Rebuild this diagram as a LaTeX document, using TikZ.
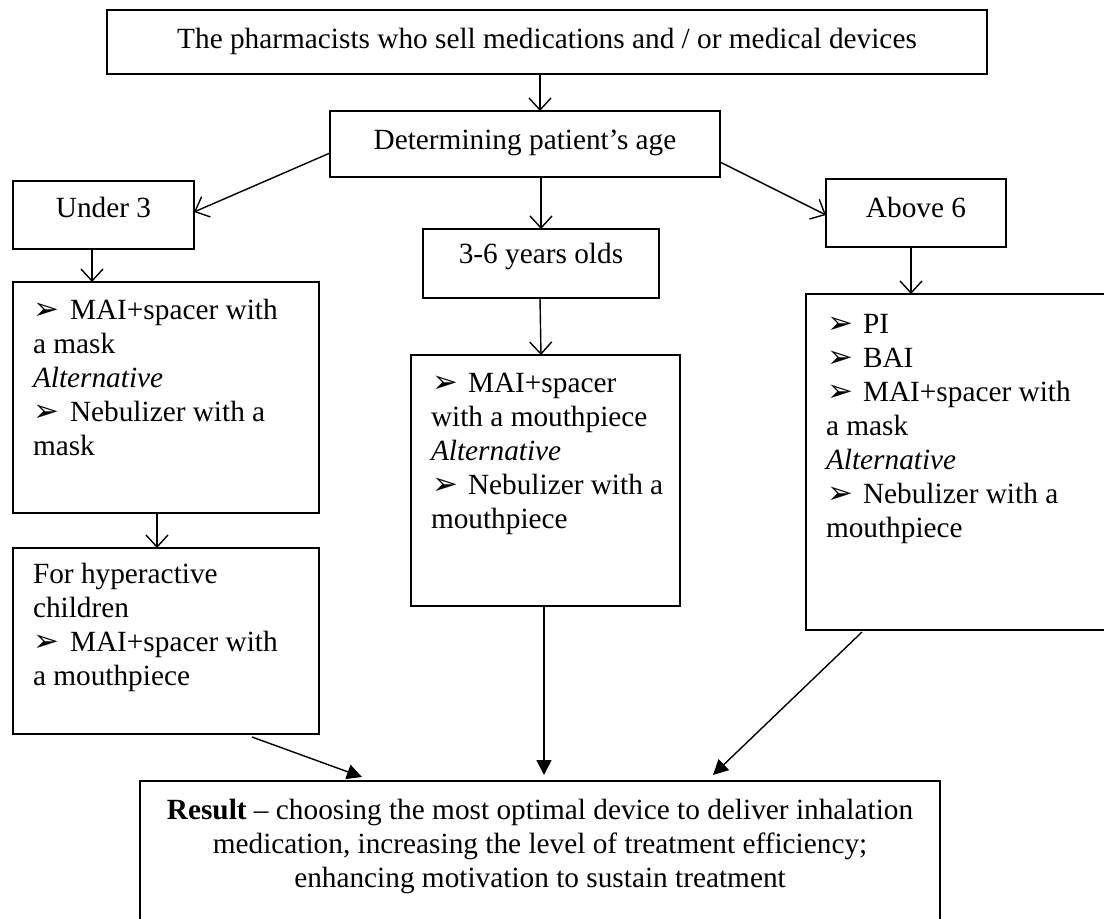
\documentclass[tikz,border=0pt]{standalone}
\usepackage{fontspec}
\setmainfont{Liberation Serif}
\newfontfamily\dejavu{DejaVu Sans}
\usetikzlibrary{arrows.meta}
\newcommand\bul{\hspace*{1pt}\makebox[36pt][l]{\fontsize{31}{31}\selectfont\dejavu ➢}}
\begin{document}
\begin{tikzpicture}[x=1pt,y=-1pt,
  box/.style={draw, line width=1.8pt, inner sep=0pt, outer sep=0pt, anchor=north west},
  txt/.style={inner sep=0pt, outer sep=0pt, font=\fontsize{29.3}{34}\selectfont},
  mtxt/.style={txt, align=left, anchor=north west},
  open/.style={line width=1.4pt, -{Straight Barb[length=12pt,width=22pt]}},
  fill/.style={line width=1.4pt, -{Triangle[length=15pt,width=15pt]}}]
\useasboundingbox (0,0) rectangle (1104,919);
\fill[white] (0,0) rectangle (1104,919);
\clip (0,0) rectangle (1104,919);
% boxes
\node[box, minimum width=880pt, minimum height=64pt] (top) at (107,10) {};
\node[box, minimum width=390pt, minimum height=66pt] (det) at (330,111) {};
\node[box, minimum width=181pt, minimum height=68pt] (under) at (13,181) {};
\node[box, minimum width=236pt, minimum height=69pt] (three) at (423,229) {};
\node[box, minimum width=180pt, minimum height=68pt] (above) at (826,179) {};
\node[box, minimum width=306pt, minimum height=231pt] (box1) at (13,282) {};
\node[box, minimum width=306pt, minimum height=186pt] (hyper) at (13,548) {};
\node[box, minimum width=269pt, minimum height=251pt] (mid) at (411,355) {};
\node[box, minimum width=314pt, minimum height=336pt] (right) at (806,294) {};
\node[box, minimum width=800pt, minimum height=149pt] (result) at (140,781) {};
% texts
\node[txt, anchor=base] (ttop) at (547,48) {The pharmacists who sell medications and / or medical devices};
\node[txt, anchor=base] (tdet) at (525,149) {Determining patient’s age};
\node[txt, anchor=base] (tunder) at (103.5,217) {Under 3};
\node[txt, anchor=base] (tthree) at (541,263) {3-6 years olds};
\node[txt, anchor=base] (tabove) at (916,217) {Above 6};
\node[mtxt] (tbox1) at (33,295.2) {\strut\bul MAI+spacer with\\a mask\\\textit{Alternative}\\\bul Nebulizer with a\\mask};
\node[mtxt] (thyper) at (33,559.2) {\strut For hyperactive\\children\\\bul MAI+spacer with\\a mouthpiece};
\node[mtxt] (tmid) at (431,368.2) {\strut\bul MAI+spacer\\with a mouthpiece\\\textit{Alternative}\\\bul Nebulizer with a\\mouthpiece};
\node[mtxt] (tright) at (826,309.2) {\strut\bul PI\\\bul BAI\\\bul MAI+spacer with\\a mask\\\textit{Alternative}\\\bul Nebulizer with a\\mouthpiece};
\node[txt, align=center, anchor=north] (tresult) at (540,795.2) {\strut\textbf{Result} – choosing the most optimal device to deliver inhalation\\medication, increasing the level of treatment efficiency;\\enhancing motivation to sustain treatment};
% connectors
\draw[open] ([xshift=-7pt]top.south) -- ([xshift=15pt]det.north);
\draw[open] ([yshift=-9pt]det.west) -- ([yshift=3pt]under.east);
\draw[open] ([xshift=16pt]det.south) -- (three.north);
\draw[open] ([yshift=-18pt]det.east) -- ([yshift=-2pt]above.west);
\draw[open] ([xshift=-11.5pt]under.south) -- ([xshift=-74pt]box1.north);
\draw[open] ([xshift=-9pt]box1.south) -- ([xshift=-9pt]hyper.north);
\draw[open] ([xshift=-1pt]three.south) -- ([xshift=-4.5pt]mid.north);
\draw[open] ([xshift=-5pt]above.south) -- ([xshift=-52pt]right.north);
\draw[fill] ([xshift=86pt,yshift=-3pt]hyper.south) -- ([xshift=-178pt,yshift=4pt]result.north);
\draw[fill] ([xshift=-1.5pt]mid.south) -- ([xshift=4pt,yshift=6pt]result.north);
\draw[fill] ([xshift=-101pt,yshift=-2pt]right.south) -- ([xshift=173pt,yshift=6pt]result.north);
\end{tikzpicture}
\end{document}
